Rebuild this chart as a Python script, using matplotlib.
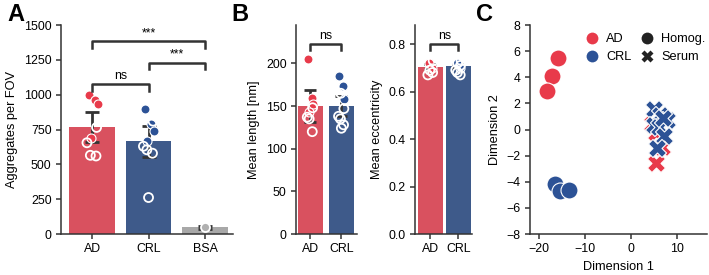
import matplotlib
matplotlib.use("Agg")
import matplotlib.pyplot as plt
from matplotlib.lines import Line2D
import numpy as np

plt.rcParams['font.family'] = ['Liberation Sans', 'DejaVu Sans']
TFS = 8.9   # tick labels
LFS = 9.2   # axis labels
plt.rcParams['font.size'] = LFS

RED_BAR = '#d9515f'
BLUE_BAR = '#3e5a8a'
GRAY_BAR = '#a8a8a8'
RED_PT = '#e83a4a'
BLUE_PT = '#2c5296'
GRAY_PT = '#b0b0b0'
DARK = '#333333'

# ---- Panel A data ----
a_groups = ['AD', 'CRL', 'BSA']
a_means = [768, 665, 48]
a_err = [105, 110, 10]
a_ad_filled = [995, 965, 935, 690]
a_ad_open = [765, 655, 565, 560]
a_crl_filled = [900, 790, 740, 665]
a_crl_open = [810, 630, 605, 580, 262]
a_bsa_open = [50]
a_sig = [('ns', 0, 1, 1075), ('***', 1, 2, 1230), ('***', 0, 2, 1382)]

# ---- Panel B data ----
b_groups = ['AD', 'CRL']
len_means = [150, 150]
len_err = [19, 12]
len_ad_filled = [205, 160, 152, 143]
len_ad_open = [148, 137, 135, 120]
len_crl_filled = [185, 173, 158]
len_crl_open = [165, 147, 138, 135, 128, 124]

ecc_means = [0.705, 0.707]
ecc_err = [0.012, 0.010]
ecc_ad_filled = [0.72, 0.70]
ecc_ad_open = [0.73, 0.69, 0.68, 0.67]
ecc_crl_filled = [0.72, 0.70]
ecc_crl_open = [0.73, 0.72, 0.71, 0.69, 0.68, 0.67]

# ---- Panel C data ----
c_ad_homog_x = [-16.0, -17.2, -18.3]
c_ad_homog_y = [5.5, 4.1, 2.95]
c_crl_homog_x = [-16.6, -15.5, -13.5]
c_crl_homog_y = [-4.15, -4.7, -4.65]
c_ad_serum_x = [4.5, 5.5, 6.8, 5.5]
c_ad_serum_y = [0.45, -0.25, -1.35, -2.6]
c_crl_serum_x = [5.0, 6.3, 7.9, 4.9, 6.0, 7.1, 5.7, 6.9]
c_crl_serum_y = [1.6, 1.1, 0.75, 0.35, 0.2, -0.5, -1.4, 0.9]

jit = [-0.06, 0.05, 0.1, -0.02, 0.08, -0.09, -0.03, 0.07, 0.0]

fig = plt.figure(figsize=(7.09, 2.75), dpi=100)

def style(ax):
    for s in ['top', 'right']:
        ax.spines[s].set_visible(False)
    for s in ['left', 'bottom']:
        ax.spines[s].set_color(DARK)
        ax.spines[s].set_linewidth(1.1)
    ax.tick_params(length=3.8, width=1.1, color=DARK, labelsize=TFS, pad=3)

def points(ax, x, vals, color, filled, s=42, start=0):
    xs = [x + jit[(i + start) % len(jit)] for i in range(len(vals))]
    if filled:
        ax.scatter(xs, vals, s=s, facecolor=color, edgecolor='white', linewidth=0.8, zorder=4)
    else:
        ax.scatter(xs, vals, s=s, facecolor='none', edgecolor='white', linewidth=1.3, zorder=4)

def bracket(ax, x1, x2, y, h, text):
    ax.plot([x1, x1, x2, x2], [y - h, y, y, y - h], color=DARK, lw=1.8, zorder=5)
    ax.text((x1 + x2) / 2, y + h * 0.3, text, ha='center', va='bottom', fontsize=TFS)

# ---- Panel A ----
axA = fig.add_axes([0.086, 0.149, 0.243, 0.76])
style(axA)
colsA = [RED_BAR, BLUE_BAR, GRAY_BAR]
axA.bar(range(3), a_means, width=0.8, color=colsA, zorder=1)
axA.errorbar(range(3), a_means, yerr=a_err, fmt='none', ecolor=DARK, elinewidth=2, capsize=5, capthick=2, zorder=2)
points(axA, 0, a_ad_filled, RED_PT, True)
points(axA, 0, a_ad_open, RED_PT, False, start=4)
points(axA, 1, a_crl_filled, BLUE_PT, True)
points(axA, 1, a_crl_open, BLUE_PT, False, start=4)
axA.scatter([2], a_bsa_open, s=42, facecolor=GRAY_PT, edgecolor='white', linewidth=1.3, zorder=4)
for t, i, j, y in a_sig:
    bracket(axA, i, j, y, 45, t)
axA.set_xlim(-0.55, 2.5)
axA.set_ylim(0, 1500)
axA.set_yticks([0, 250, 500, 750, 1000, 1250, 1500])
axA.set_xticks(range(3))
axA.set_xticklabels(a_groups)
axA.set_ylabel('Aggregates per FOV', fontsize=LFS)

# ---- Panel B1 ----
axB1 = fig.add_axes([0.4175, 0.149, 0.086, 0.76])
style(axB1)
axB1.bar(range(2), len_means, width=0.8, color=[RED_BAR, BLUE_BAR], zorder=1)
axB1.errorbar(range(2), len_means, yerr=len_err, fmt='none', ecolor=DARK, elinewidth=2, capsize=4, capthick=2, zorder=2)
points(axB1, 0, len_ad_filled, RED_PT, True)
points(axB1, 0, len_ad_open, RED_PT, False, start=4)
points(axB1, 1, len_crl_filled, BLUE_PT, True)
points(axB1, 1, len_crl_open, BLUE_PT, False, start=3)
bracket(axB1, 0, 1, 223, 7, 'ns')
axB1.set_xlim(-0.45, 1.5)
axB1.set_ylim(0, 245)
axB1.set_yticks([0, 50, 100, 150, 200])
axB1.set_xticks(range(2))
axB1.set_xticklabels(b_groups)
axB1.set_ylabel('Mean length [nm]', fontsize=LFS)

# ---- Panel B2 ----
axB2 = fig.add_axes([0.585, 0.149, 0.081, 0.76])
style(axB2)
axB2.bar(range(2), ecc_means, width=0.88, color=[RED_BAR, BLUE_BAR], zorder=1)
axB2.errorbar(range(2), ecc_means, yerr=ecc_err, fmt='none', ecolor=DARK, elinewidth=2, capsize=4, capthick=2, zorder=2)
points(axB2, 0, ecc_ad_filled, RED_PT, True)
points(axB2, 0, ecc_ad_open, RED_PT, False, start=2)
points(axB2, 1, ecc_crl_filled, BLUE_PT, True)
points(axB2, 1, ecc_crl_open, BLUE_PT, False, start=2)
bracket(axB2, 0, 1, 0.80, 0.025, 'ns')
axB2.set_xlim(-0.56, 1.5)
axB2.set_ylim(0, 0.88)
axB2.set_yticks([0.0, 0.2, 0.4, 0.6, 0.8])
axB2.set_xticks(range(2))
axB2.set_xticklabels(b_groups)
axB2.set_ylabel('Mean eccentricity', fontsize=LFS)

# ---- Panel C ----
axC = fig.add_axes([0.7475, 0.149, 0.2495, 0.76])
style(axC)
ms = 150
axC.scatter(c_ad_serum_x, c_ad_serum_y, s=170, marker='X', facecolor=RED_PT, edgecolor='white', linewidth=0.8, zorder=3)
axC.scatter(c_crl_serum_x, c_crl_serum_y, s=170, marker='X', facecolor=BLUE_PT, edgecolor='white', linewidth=0.8, zorder=3)
axC.scatter(c_ad_homog_x, c_ad_homog_y, s=ms, marker='o', facecolor=RED_PT, edgecolor='white', linewidth=0.8, zorder=3)
axC.scatter(c_crl_homog_x, c_crl_homog_y, s=ms, marker='o', facecolor=BLUE_PT, edgecolor='white', linewidth=0.8, zorder=3)
axC.set_xlim(-22, 16.5)
axC.set_ylim(-8, 8)
axC.set_xticks([-20, -10, 0, 10])
axC.set_yticks([-8, -6, -4, -2, 0, 2, 4, 6, 8])
axC.set_xlabel('Dimension 1', fontsize=LFS)
axC.set_ylabel('Dimension 2', fontsize=LFS)
handles = [
    Line2D([], [], marker='o', color='none', markerfacecolor=RED_PT, markeredgecolor='none', markersize=8.5, label='AD'),
    Line2D([], [], marker='o', color='none', markerfacecolor=BLUE_PT, markeredgecolor='none', markersize=8.5, label='CRL'),
    Line2D([], [], marker='o', color='none', markerfacecolor='#222222', markeredgecolor='none', markersize=8.5, label='Homog.'),
    Line2D([], [], marker='X', color='none', markerfacecolor='#222222', markeredgecolor='none', markersize=8.5, label='Serum'),
]
axC.legend(handles=handles, ncol=2, frameon=False, loc='upper left', bbox_to_anchor=(0.28, 0.985),
           borderaxespad=0, handletextpad=0.5, columnspacing=0.6, labelspacing=0.45,
           fontsize=LFS, handlelength=1.2)

# Panel labels
fig.text(0.011, 0.99, 'A', fontsize=17, fontweight='bold', va='top', ha='left')
fig.text(0.327, 0.99, 'B', fontsize=17, fontweight='bold', va='top', ha='left')
fig.text(0.671, 0.99, 'C', fontsize=17, fontweight='bold', va='top', ha='left')

fig.savefig('out.png', dpi=100)
